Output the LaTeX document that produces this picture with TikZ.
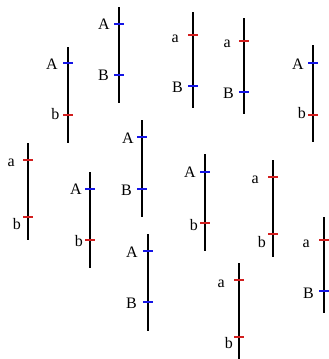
\documentclass[tikz,border=0pt]{standalone}
\usepackage{fontspec}
\setmainfont{Liberation Serif}
\definecolor{tkred}{RGB}{210,30,30}
\definecolor{tkblue}{RGB}{20,20,230}
\begin{document}
\begin{tikzpicture}[x=1pt,y=-1pt,
  chrom/.style={line width=2.7pt},
  mkr/.style={line width=1.4pt,tkred},
  mkb/.style={line width=1.4pt,tkblue},
  lab/.style={anchor=base east,inner sep=0pt,font=\fontsize{16}{16}\selectfont}]
\useasboundingbox (0,0) rectangle (329,359);
% chrom 1
\draw[chrom] (68,47) -- (68,143);
\draw[mkb] (63,63) -- (73,63); \node[lab] (l1a) at (58,69) {A};
\draw[mkr] (63,115) -- (73,115); \node[lab] (l1b) at (59.5,119) {b};
% chrom 2
\draw[chrom] (119,7) -- (119,103);
\draw[mkb] (114,24) -- (124,24); \node[lab] (l2a) at (110,29) {A};
\draw[mkb] (114,75) -- (124,75); \node[lab] (l2b) at (109,80) {B};
% chrom 3
\draw[chrom] (142,120) -- (142,217);
\draw[mkb] (137,137) -- (147,137); \node[lab] (l3a) at (134,143) {A};
\draw[mkb] (137,189) -- (147,189); \node[lab] (l3b) at (132,195) {B};
% chrom 4
\draw[chrom] (193,12) -- (193,108);
\draw[mkr] (188,35) -- (198,35); \node[lab] (l4a) at (179,42) {a};
\draw[mkb] (188,86) -- (198,86); \node[lab] (l4b) at (183,92) {B};
% chrom 5
\draw[chrom] (244,18) -- (244,114);
\draw[mkr] (239,41) -- (249,41); \node[lab] (l5a) at (231,47) {a};
\draw[mkb] (239,92) -- (249,92); \node[lab] (l5b) at (234,98) {B};
% chrom 6
\draw[chrom] (313,45) -- (313,142);
\draw[mkb] (308,63) -- (318,63); \node[lab] (l6a) at (304,69) {A};
\draw[mkr] (308,115) -- (318,115); \node[lab] (l6b) at (306,118) {b};
% chrom 7
\draw[chrom] (28,143) -- (28,240);
\draw[mkr] (23,160) -- (33,160); \node[lab] (l7a) at (15,166) {a};
\draw[mkr] (23,217) -- (33,217); \node[lab] (l7b) at (21,229) {b};
% chrom 8
\draw[chrom] (90,172) -- (90,268);
\draw[mkb] (85,189) -- (95,189); \node[lab] (l8a) at (82,194) {A};
\draw[mkr] (85,240) -- (95,240); \node[lab] (l8b) at (83,246) {b};
% chrom 9
\draw[chrom] (148,234) -- (148,331);
\draw[mkb] (143,251) -- (153,251); \node[lab] (l9a) at (138,257) {A};
\draw[mkb] (143,302) -- (153,302); \node[lab] (l9b) at (137,308) {B};
% chrom 10
\draw[chrom] (205,154) -- (205,251);
\draw[mkb] (200,172) -- (210,172); \node[lab] (l10a) at (196,177) {A};
\draw[mkr] (200,223) -- (210,223); \node[lab] (l10b) at (198,230) {b};
% chrom 11
\draw[chrom] (273,160) -- (273,257);
\draw[mkr] (268,177) -- (278,177); \node[lab] (l11a) at (259,183) {a};
\draw[mkr] (268,234) -- (278,234); \node[lab] (l11b) at (266,247) {b};
% chrom 12
\draw[chrom] (324,217) -- (324,313);
\draw[mkr] (319,240) -- (329,240); \node[lab] (l12a) at (310,247) {a};
\draw[mkb] (319,291) -- (329,291); \node[lab] (l12b) at (314,298) {B};
% chrom 13
\draw[chrom] (239,263) -- (239,359);
\draw[mkr] (234,280) -- (244,280); \node[lab] (l13a) at (225,287) {a};
\draw[mkr] (234,337) -- (244,337); \node[lab] (l13b) at (233,348) {b};
\end{tikzpicture}
\end{document}
